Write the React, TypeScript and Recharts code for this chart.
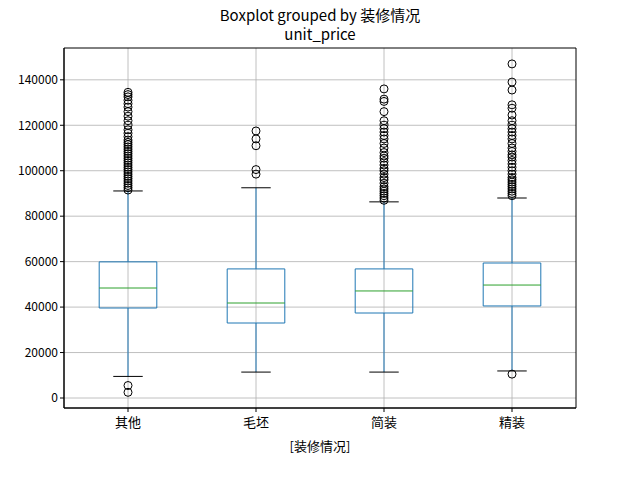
import React from 'react';
import { ComposedChart, XAxis, YAxis, CartesianGrid, Scatter, ReferenceArea, ReferenceLine } from 'recharts';

const categories = ['其他', '毛坯', '简装', '精装'];
const whiskerLow = [9500, 11400, 11400, 11900];
const q1 = [39600, 33000, 37400, 40500];
const median = [48400, 41800, 47100, 49700];
const q3 = [59900, 56800, 56800, 59400];
const whiskerHigh = [91100, 92500, 86300, 88000];
const outliers0 = [2500, 5500, 91500, 92500, 93500, 94500, 95500, 96500, 97500, 98500, 99500, 100500, 101500, 102500, 103500, 104500, 105500, 106500, 107500, 108500, 109500, 110500, 111500, 112500, 113500, 115000, 116500, 118000, 120000, 122000, 124000, 126000, 128000, 129500, 131000, 132500, 133500, 134500];
const outliers1 = [98500, 100500, 111000, 114000, 117500];
const outliers2 = [87000, 88000, 89000, 90000, 91000, 92000, 93000, 94500, 96000, 97000, 98500, 100000, 101000, 102500, 104000, 105500, 106500, 108000, 110000, 112000, 114000, 115500, 117000, 118500, 120000, 122000, 126000, 130500, 131500, 136000];
const outliers3 = [10500, 89000, 90000, 91000, 92000, 93000, 94000, 95000, 96000, 97000, 98500, 100000, 101500, 103000, 104500, 106000, 107000, 108500, 110000, 112000, 114000, 115500, 117000, 118500, 120000, 122000, 124500, 127500, 129000, 135500, 139000, 147000];
const yTicks = [0, 20000, 40000, 60000, 80000, 100000, 120000, 140000];

const outlierData = [outliers0, outliers1, outliers2, outliers3].flatMap((arr, i) => arr.map(v => ({ x: i + 1, y: v })));

const BW = 0.225, CW = 0.115;
const font = '"Noto Sans CJK SC", "DejaVu Sans", sans-serif';

export default function App() {
  return (
    <div style={{ position: 'absolute', left: 0, top: 0, width: 640, height: 480, background: '#fff', fontFamily: font }}>
      <div style={{ position: 'absolute', top: 6, width: 640, textAlign: 'center', fontSize: 15, lineHeight: '17px' }}>Boxplot grouped by 装修情况</div>
      <div style={{ position: 'absolute', top: 25, width: 640, textAlign: 'center', fontSize: 15, lineHeight: '17px' }}>unit_price</div>
      <div style={{ position: 'absolute', top: 437, width: 640, textAlign: 'center', fontSize: 13, lineHeight: '18px' }}>[装修情况]</div>
      <ComposedChart width={640} height={480} margin={{ top: 48, right: 64, bottom: 42, left: 4 }} style={{ fontFamily: font }}>
        <CartesianGrid stroke="#b0b0b0" strokeWidth={0.8} horizontalValues={yTicks} verticalValues={[1, 2, 3, 4]} />
        <XAxis type="number" dataKey="x" domain={[0.5, 4.5]} ticks={[1, 2, 3, 4]} tickFormatter={(v) => categories[v - 1]} height={30} stroke="#000" tickSize={4} tickMargin={6} tick={{ fill: '#000', fontSize: 13 }} allowDataOverflow />
        <YAxis type="number" dataKey="y" domain={[-4400, 154000]} ticks={yTicks} width={60} stroke="#000" tickSize={4} tickMargin={2} tick={{ fill: '#000', fontSize: 12 }} allowDataOverflow />
        <ReferenceArea x1={0.5} x2={4.5} y1={-4400} y2={154000} fill="none" stroke="#000" strokeWidth={1} />
        {categories.map((c, i) => {
          const x = i + 1;
          return (
            <React.Fragment key={c}>
              <ReferenceLine segment={[{ x, y: whiskerLow[i] }, { x, y: q1[i] }]} stroke="#1f77b4" />
              <ReferenceLine segment={[{ x, y: q3[i] }, { x, y: whiskerHigh[i] }]} stroke="#1f77b4" />
              <ReferenceLine segment={[{ x: x - CW, y: whiskerLow[i] }, { x: x + CW, y: whiskerLow[i] }]} stroke="#000" />
              <ReferenceLine segment={[{ x: x - CW, y: whiskerHigh[i] }, { x: x + CW, y: whiskerHigh[i] }]} stroke="#000" />
              <ReferenceArea x1={x - BW} x2={x + BW} y1={q1[i]} y2={q3[i]} fill="none" fillOpacity={0} stroke="#1f77b4" strokeWidth={1} strokeOpacity={1} />
              <ReferenceLine segment={[{ x: x - BW, y: median[i] }, { x: x + BW, y: median[i] }]} stroke="#2ca02c" />
            </React.Fragment>
          );
        })}
        <Scatter data={outlierData} isAnimationActive={false} shape={(p: any) => <circle cx={p.cx} cy={p.cy} r={4} fill="none" stroke="#000" strokeWidth={1} />} />
      </ComposedChart>
    </div>
  );
}
